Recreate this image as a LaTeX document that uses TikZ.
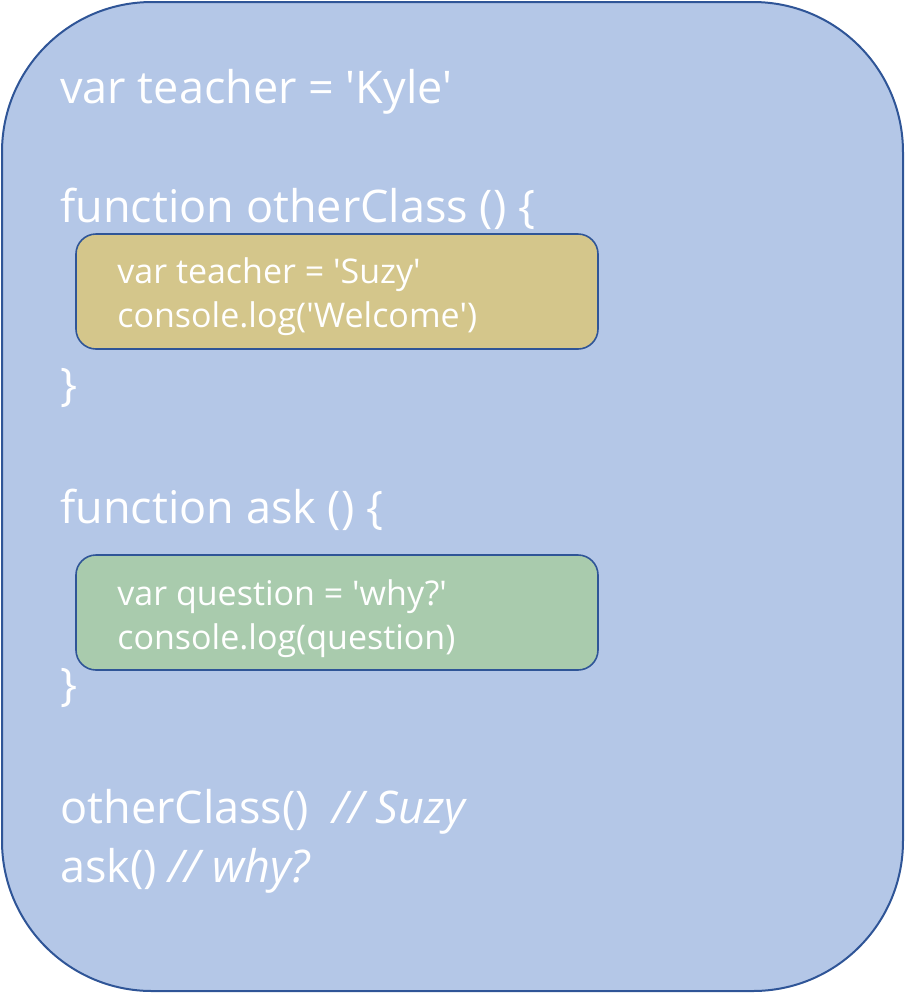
\documentclass[tikz,border=0pt]{standalone}
\usepackage{fontspec}
\setmainfont{Open Sans}[Ligatures=NoCommon]
\usepackage{xcolor}
\definecolor{cFrame}{HTML}{2F5597}
\definecolor{cScope}{HTML}{B4C7E7}
\definecolor{cFunc}{HTML}{D4C68B}
\definecolor{cBlock}{HTML}{A9CBAD}
\usetikzlibrary{positioning}
\newcommand{\sq}{\textquotesingle}
\tikzset{
  scope-box/.style={draw=cFrame,line width=1pt,fill=cScope,rounded corners=75pt,
    minimum width=450.5pt,minimum height=494.5pt,inner sep=0pt},
  inner-box/.style={draw=cFrame,line width=0.8pt,rounded corners=10pt,
    minimum width=261pt,minimum height=57.5pt,inner sep=0pt},
  code-big/.style={anchor=base west,text=white,font=\fontsize{22.5}{27}\selectfont,inner sep=0pt},
  code-small/.style={anchor=base west,text=white,font=\fontsize{17}{20}\selectfont,
    inner sep=0pt,align=left},
}
\begin{document}
\begin{tikzpicture}[x=0.5pt,y=-0.5pt]
  \useasboundingbox (0,0) rectangle (905,993);
  % global scope
  \node[scope-box] (global) at (452.5,496.5) {};
  % function scopes
  \node[inner-box,fill=cFunc] (other) at (337,291.5) {};
  \node[inner-box,fill=cBlock] (ask) at (337,612.5) {};
  % code lines
  \node[code-big] (l1) at (60,103) {var teacher = \sq Kyle\sq};
  \node[code-big] (l2) at (60,222) {function otherClass () \{};
  \node[code-big] (l3) at (60,400) {\}};
  \node[code-big] (l4) at (60,523) {function ask () \{};
  \node[code-big] (l5) at (60,700) {\}};
  \node[code-big] (l6) at (60,823) {otherClass()\ \ \textit{// Suzy}};
  \node[code-big] (l7) at (60,882) {ask() \textit{// why?}};
  \node[code-small] (o1) at (117,283) {var teacher = \sq Suzy\sq};
  \node[code-small] (o2) at (117,327) {console.log(\sq Welcome\sq)};
  \node[code-small] (a1) at (117,605) {var question = \sq why?\sq};
  \node[code-small] (a2) at (117,649) {console.log(question)};
\end{tikzpicture}
\end{document}
